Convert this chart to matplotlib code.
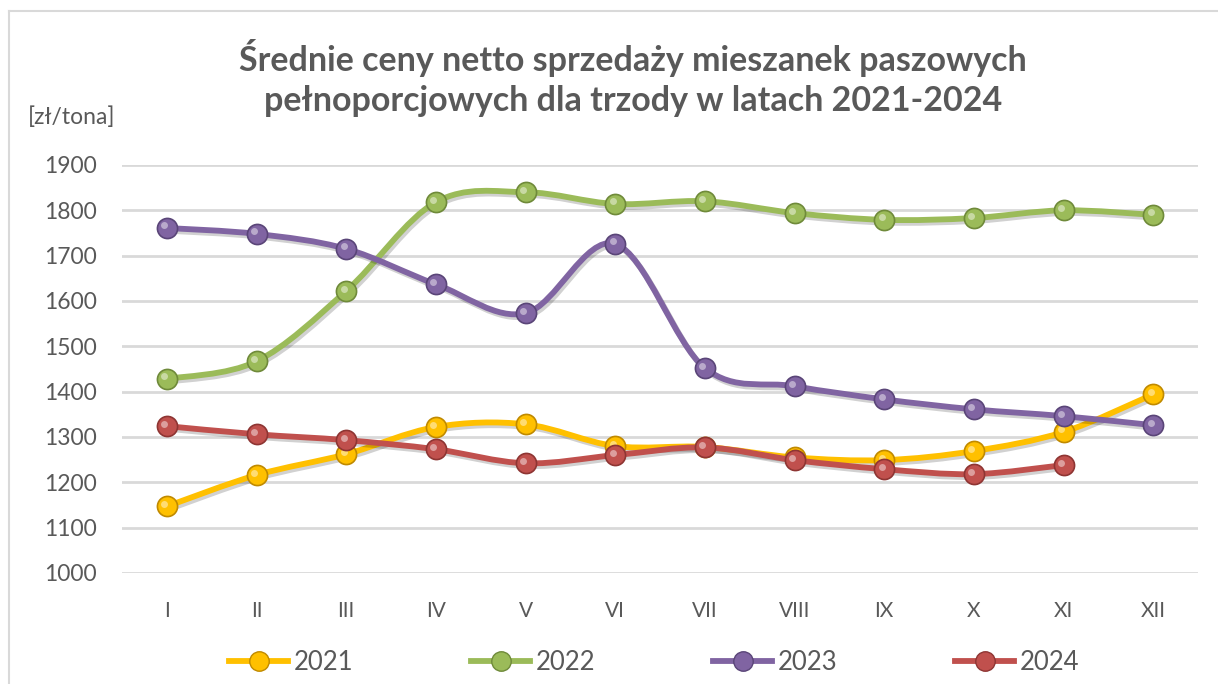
import numpy as np
import matplotlib.pyplot as plt
from matplotlib.path import Path
from matplotlib.patches import PathPatch
from matplotlib.lines import Line2D
import matplotlib.patheffects as pe
from matplotlib.transforms import offset_copy

plt.rcParams['font.family'] = ['Lato', 'DejaVu Sans']

months = ["I", "II", "III", "IV", "V", "VI", "VII", "VIII", "IX", "X", "XI", "XII"]
years = ["2021", "2022", "2023", "2024"]
v2021 = [1147, 1216, 1262, 1322, 1328, 1280, 1278, 1255, 1249, 1269, 1311, 1394]
v2022 = [1428, 1467, 1622, 1818, 1840, 1814, 1820, 1794, 1779, 1783, 1800, 1790]
v2023 = [1761, 1748, 1715, 1637, 1573, 1726, 1452, 1412, 1383, 1361, 1346, 1326]
v2024 = [1324, 1306, 1293, 1273, 1242, 1260, 1277, 1249, 1229, 1218, 1238]
series = [v2021, v2022, v2023, v2024]
colors = ["#FFC000", "#9BBB59", "#8064A2", "#C0504D"]
edges = ["#C08A00", "#6F8A3A", "#5A4578", "#8E3533"]
gray = "#595959"


def smooth_path(x, y):
    # Bezier path through the points, similar to Excel's smoothed line
    pts = np.column_stack([x, y]).astype(float)
    n = len(pts)
    verts = [pts[0]]
    codes = [Path.MOVETO]
    for i in range(n - 1):
        p0 = pts[i - 1] if i > 0 else pts[i]
        p1 = pts[i]
        p2 = pts[i + 1]
        p3 = pts[i + 2] if i + 2 < n else pts[i + 1]
        c1 = p1 + (p2 - p0) / 6.0
        c2 = p2 - (p3 - p1) / 6.0
        verts += [c1, c2, p2]
        codes += [Path.CURVE4] * 3
    return Path(verts, codes)


fig = plt.figure(figsize=(12.18, 6.84), dpi=100)
ax = fig.add_axes([0.1002, 0.1623, 0.8834, 0.5965])

# outer frame of the chart area
fig.add_artist(Line2D([9 / 1218, 9 / 1218], [0, 1 - 11 / 684], color="#D9D9D9", lw=1.5))
fig.add_artist(Line2D([9 / 1218, 1], [1 - 11 / 684, 1 - 11 / 684], color="#D9D9D9", lw=1.5))

hl = offset_copy(ax.transData, fig=fig, x=-1.8, y=1.8, units="points")

for k, (vals, c, ec) in enumerate(zip(series, colors, edges)):
    x = np.arange(len(vals))
    patch = PathPatch(smooth_path(x, vals), fill=False, edgecolor=c, lw=4.2,
                      capstyle="round", joinstyle="round", zorder=3 + k,
                      path_effects=[pe.SimpleLineShadow(offset=(1.5, -2), alpha=0.18),
                                    pe.Normal()])
    ax.add_patch(patch)
    ax.plot(x, vals, linestyle="none", marker="o", markersize=14.5,
            markerfacecolor=c, markeredgecolor=ec, markeredgewidth=1.2, zorder=3.5 + k)
    ax.plot(x, vals, linestyle="none", marker="o", markersize=5,
            markerfacecolor="white", markeredgecolor="none", alpha=0.45,
            transform=hl, zorder=3.6 + k)

ax.set_xlim(-0.5, 11.5)
ax.set_ylim(1000, 1900)
ax.set_yticks(np.arange(1000, 1901, 100))
ax.set_xticks(np.arange(12))
ax.set_xticklabels(months)
ax.yaxis.grid(True, color="#D9D9D9", lw=2)
ax.set_axisbelow(True)
for s in ax.spines.values():
    s.set_visible(False)
ax.tick_params(length=0, colors=gray)
ax.tick_params(axis="y", pad=18, labelsize=16.5)
ax.tick_params(axis="x", pad=20, labelsize=15)

fig.text(0.52, 1 - 78 / 684,
         "Średnie ceny netto sprzedaży mieszanek paszowych\npełnoporcjowych dla trzody w latach 2021-2024",
         ha="center", va="center", fontsize=24.5, fontweight="bold", color=gray, linespacing=1.3)
fig.text(28 / 1218, 1 - 117 / 684, "[zł/tona]", ha="left", va="center", fontsize=16.5, color=gray)

handles = [Line2D([0], [0], color=c, lw=4.2, marker="o", markersize=14,
                  markerfacecolor=c, markeredgecolor=ec) for c, ec in zip(colors, edges)]
fig.legend(handles, years, loc="center", bbox_to_anchor=(0.537, 1 - 662 / 684), ncol=4,
           frameon=False, fontsize=18.5, labelcolor=gray, columnspacing=4.6,
           handlelength=2.3, handletextpad=0.2)

fig.savefig("out.png", dpi=100)
